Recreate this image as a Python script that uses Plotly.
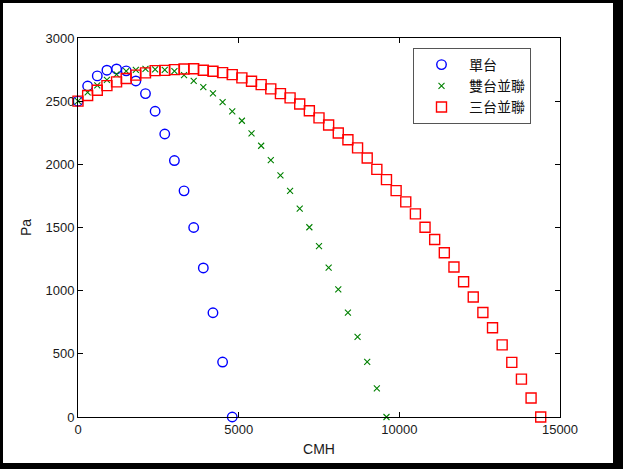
import plotly.graph_objects as go

# ---- data ----
single_cmh = [0, 300, 600, 900, 1200, 1500, 1800, 2100, 2400, 2700, 3000,
              3300, 3600, 3900, 4200, 4500, 4800]
single_pa = [2500, 2620, 2700, 2745, 2755, 2740, 2660, 2560, 2420, 2240, 2030,
             1790, 1500, 1180, 825, 435, 0]

double_cmh = [0, 300, 600, 900, 1200, 1500, 1800, 2100, 2400, 2700, 3000,
              3300, 3600, 3900, 4200, 4500, 4800, 5100, 5400, 5700, 6000,
              6300, 6600, 6900, 7200, 7500, 7800, 8100, 8400, 8700, 9000,
              9300, 9600]
double_pa = [2500, 2570, 2625, 2668, 2712, 2737, 2748, 2755, 2752, 2748, 2737,
             2706, 2660, 2611, 2562, 2492, 2420, 2345, 2245, 2147, 2033,
             1913, 1790, 1650, 1502, 1352, 1183, 1011, 827, 634, 437,
             227, 0]

triple_cmh = [0, 300, 600, 900, 1200, 1500, 1800, 2100, 2400, 2700, 3000,
              3300, 3600, 3900, 4200, 4500, 4800, 5100, 5400, 5700, 6000,
              6300, 6600, 6900, 7200, 7500, 7800, 8100, 8400, 8700, 9000,
              9300, 9600, 9900, 10200, 10500, 10800, 11100, 11400, 11700,
              12000, 12300, 12600, 12900, 13200, 13500, 13800, 14100, 14400]
triple_pa = [2500, 2545, 2587, 2623, 2653, 2679, 2706, 2724, 2742, 2744, 2750,
             2755, 2757, 2745, 2737, 2726, 2710, 2684, 2658, 2631, 2597,
             2560, 2526, 2477, 2424, 2368, 2311, 2248, 2195, 2130, 2050,
             1960, 1879, 1792, 1703, 1608, 1502, 1405, 1300, 1187,
             1071, 950, 827, 706, 571, 432, 300, 150, 0]

series_names = ["單台", "雙台並聯", "三台並聯"]
x_ticks = [0, 5000, 10000, 15000]
y_ticks = [0, 500, 1000, 1500, 2000, 2500, 3000]

W, H = 623, 469
ML, MR, MT, MB = 78, 63, 38, 52
PW, PH = W - ML - MR, H - MT - MB

def px_x(p):
    return (p - ML) / PW

def px_y(p):
    return (H - MB - p) / PH

fig = go.Figure()
fig.add_trace(go.Scatter(
    x=single_cmh, y=single_pa, mode="markers", name=series_names[0],
    cliponaxis=False,
    marker=dict(symbol="circle-open", size=9.5, color="#0000ff",
                line=dict(width=1.4, color="#0000ff"))))
fig.add_trace(go.Scatter(
    x=double_cmh, y=double_pa, mode="markers", name=series_names[1],
    cliponaxis=False,
    marker=dict(symbol="x-thin-open", size=6, color="#008000",
                line=dict(width=1.1, color="#008000"))))
fig.add_trace(go.Scatter(
    x=triple_cmh, y=triple_pa, mode="markers", name=series_names[2],
    cliponaxis=False,
    marker=dict(symbol="square-open", size=10, color="#ff0000",
                line=dict(width=1.4, color="#ff0000"))))

axis_common = dict(showgrid=False, zeroline=False, showline=True,
                   linecolor="#000000", linewidth=1, mirror="ticks",
                   ticks="inside", ticklen=5, tickcolor="#000000",
                   tickfont=dict(family="Liberation Sans, Arial", size=13,
                                 color="#1a1a1a"))

fig.update_layout(
    width=W, height=H,
    margin=dict(l=ML, r=MR, t=MT, b=MB, autoexpand=False),
    paper_bgcolor="#ffffff", plot_bgcolor="#ffffff",
    showlegend=True,
    legend=dict(x=px_x(413), y=px_y(48), xanchor="left", yanchor="top",
                bgcolor="#ffffff", bordercolor="#555555", borderwidth=1,
                font=dict(family="Noto Sans CJK TC", size=14, color="#111111"),
                itemwidth=45, entrywidth=140, entrywidthmode="pixels",
                tracegroupgap=0),
    xaxis=dict(range=[0, 15000], tickvals=x_ticks,
               ticktext=[str(v) for v in x_ticks],
               title=dict(text="CMH", standoff=8,
                          font=dict(family="Liberation Sans, Arial", size=14,
                                    color="#1a1a1a")),
               **axis_common),
    yaxis=dict(range=[0, 3000], tickvals=y_ticks,
               ticktext=[str(v) for v in y_ticks],
               title=dict(text="Pa", standoff=10,
                          font=dict(family="Liberation Sans, Arial", size=14,
                                    color="#1a1a1a")),
               **axis_common),
)

# outer black frame of the picture
frame = [
    (0, 0, 3, H),          # left
    (0, 0, W, 3),          # top
    (613, 0, W, H),        # right
    (0, 463, W, H),        # bottom
]
for x0, y0, x1, y1 in frame:
    fig.add_shape(type="rect", xref="paper", yref="paper",
                  x0=px_x(x0), x1=px_x(x1), y0=px_y(y1), y1=px_y(y0),
                  fillcolor="#000000", line=dict(width=0), layer="above")

fig.write_html("out.html")
